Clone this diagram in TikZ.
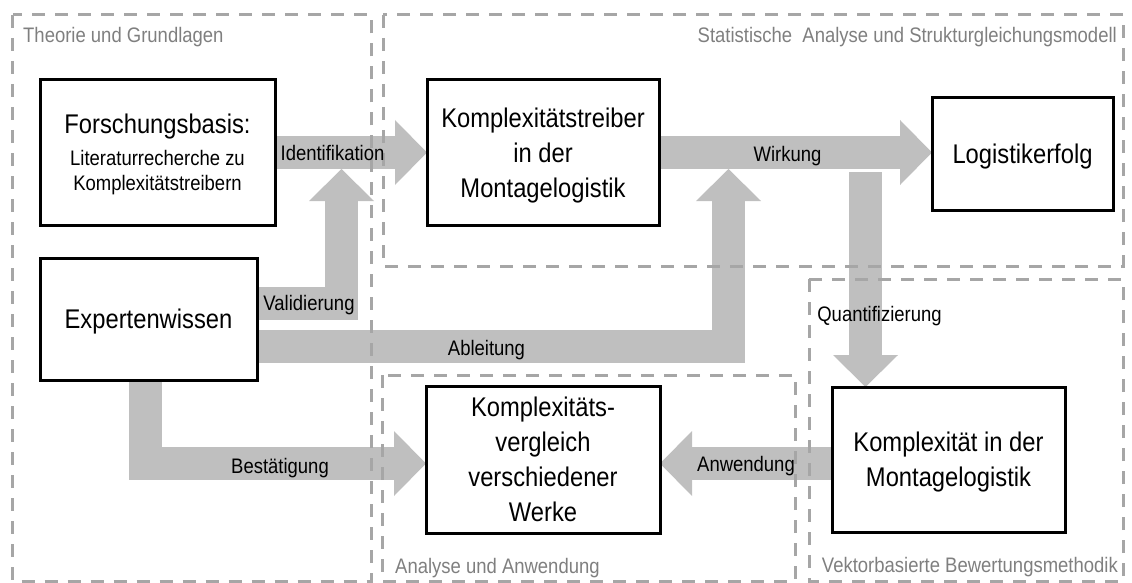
\documentclass[tikz,border=0pt]{standalone}
\usepackage{fontspec}
\setmainfont{Liberation Sans}[FakeStretch=0.88]
\usetikzlibrary{arrows.meta}
\definecolor{flowgray}{HTML}{BFBFBF}
\definecolor{framegray}{HTML}{A6A6A6}
\definecolor{labelgray}{HTML}{7F7F7F}
\pgfdeclarelayer{flows}
\pgfdeclarelayer{regions}
\pgfsetlayers{flows,regions,main}

\begin{document}
\begin{tikzpicture}[x=1pt,y=-1pt,
  box/.style={draw=black, line width=3pt, fill=white, inner sep=0pt, outer sep=0pt,
    align=center, text depth=0pt, font=\fontsize{27}{35}\selectfont},
  flow/.style={draw=flowgray, line width=33pt, line join=miter,
    -{Triangle[length=32pt,width=65pt,line width=0pt]}},
  region/.style={draw=framegray, line width=3pt, dash pattern=on 13pt off 10pt},
  regionlabel/.style={text=labelgray, font=\fontsize{21}{24}\selectfont, inner sep=0pt},
  flowlabel/.style={font=\fontsize{21}{24}\selectfont, inner sep=0pt, anchor=base}
]
\useasboundingbox (0,0) rectangle (1132,583);

% boxes
\node[box, font=\fontsize{27}{32}\selectfont, minimum width=235pt, minimum height=145pt] (fb) at (157.5,152.5)
  {Forschungsbasis:\\
   {\fontsize{21}{25}\selectfont Literaturrecherche zu}\\[-7pt]
   {\fontsize{21}{25}\selectfont Komplexitätstreibern}};
\node[box, minimum width=232pt, minimum height=145pt] (kt) at (543,152.5)
  {Komplexitätstreiber\\in der\\Montagelogistik};
\node[box, minimum width=181pt, minimum height=112pt] (lo) at (1022.5,154)
  {Logistikerfolg};
\node[box, minimum width=217pt, minimum height=122pt] (ew) at (148.5,319)
  {Expertenwissen};
\node[box, minimum width=234pt, minimum height=147pt] (kv) at (543,459.5)
  {Komplexitäts-\\vergleich\\verschiedener\\Werke};
\node[box, minimum width=233pt, minimum height=145pt] (km) at (948.5,459.5)
  {Komplexität in der\\Montagelogistik};

% free ends of the arrows that join other arrows
\coordinate (vtip) at (341.5,169);
\coordinate (atip) at (728.5,169);
\coordinate (qstart) at (865.5,172);

% flows
\begin{pgfonlayer}{flows}
\draw[flow] (fb.east) -- (kt.west);
\draw[flow] (kt.east) -- (kt.east -| lo.west);
\draw[flow] ([yshift=16pt]ew.east) -| (vtip);
\draw[flow] ([yshift=-27pt]ew.east) -| (atip);
\draw[flow] (qstart) -- (qstart |- km.north);
\draw[flow] ([xshift=-3.5pt]ew.south) |- ([yshift=-4pt]kv.west);
\draw[flow] ([yshift=-4pt]km.west) -- ([yshift=-4pt]kv.east);
\end{pgfonlayer}

% regions
\begin{pgfonlayer}{regions}
\draw[region] (12.5,15) rectangle (371,581);
\draw[region] (383,15) rectangle (1123,266);
\draw[region] (382,375) rectangle (795,581);
\draw[region] (809,279) rectangle (1123,581);
\end{pgfonlayer}

% region titles
\node[regionlabel, anchor=base west] (r1) at (23,43) {Theorie und Grundlagen};
\node[regionlabel, anchor=base east] (r2) at (1117,43) {Statistische\ \ Analyse und Strukturgleichungsmodell};
\node[regionlabel, anchor=base west] (r3) at (395,573) {Analyse und Anwendung};
\node[regionlabel, anchor=base east] (r4) at (1118,572) {Vektorbasierte Bewertungsmethodik};

% flow labels
\node[flowlabel] (l1) at (332.5,160.5) {Identifikation};
\node[flowlabel] (l2) at (309,310) {Validierung};
\node[flowlabel] (l3) at (787.5,161.5) {Wirkung};
\node[flowlabel] (l4) at (486.5,355) {Ableitung};
\node[flowlabel] (l5) at (879.5,321.5) {Quantifizierung};
\node[flowlabel] (l6) at (280,473) {Bestätigung};
\node[flowlabel] (l7) at (746,471.5) {Anwendung};
\end{tikzpicture}
\end{document}
